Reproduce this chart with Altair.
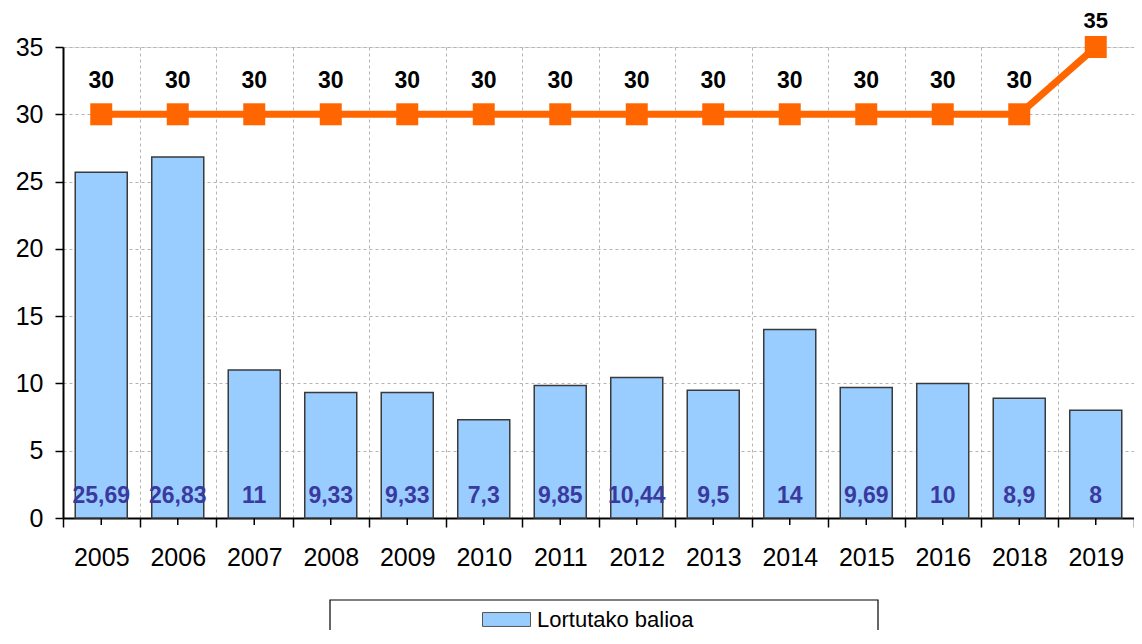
import altair as alt
import pandas as pd

years = ["2005", "2006", "2007", "2008", "2009", "2010", "2011",
         "2012", "2013", "2014", "2015", "2016", "2018", "2019"]
values = [25.69, 26.83, 11, 9.33, 9.33, 7.3, 9.85, 10.44, 9.5, 14, 9.69, 10, 8.9, 8]
value_labels = ["25,69", "26,83", "11", "9,33", "9,33", "7,3", "9,85",
                "10,44", "9,5", "14", "9,69", "10", "8,9", "8"]
targets = [30, 30, 30, 30, 30, 30, 30, 30, 30, 30, 30, 30, 30, 35]
target_labels = ["30", "30", "30", "30", "30", "30", "30",
                 "30", "30", "30", "30", "30", "30", "35"]
series_name = "Lortutako balioa"

df = pd.DataFrame({
    "year": years,
    "value": values,
    "vlabel": value_labels,
    "target": targets,
    "tlabel": target_labels,
    "series": [series_name] * len(years),
    "zero": [0] * len(years),
})

FONT = "Liberation Sans"
W, H = 1071, 471

xscale = alt.Scale(paddingInner=0, paddingOuter=0)
xenc = alt.X("year:N", scale=xscale, sort=years,
             axis=alt.Axis(title=None, tickBand="extent", grid=True,
                           gridDash=[3, 3], gridColor="#b4b4b4", gridWidth=1,
                           labelAngle=0, labelFontSize=25, labelFont=FONT,
                           labelColor="black", labelPadding=18, tickSize=9,
                           tickColor="black", tickWidth=1.5,
                           domainColor="black", domainWidth=2))
yscale = alt.Scale(domain=[0, 35], nice=False)
yenc = alt.Y("value:Q", scale=yscale,
             axis=alt.Axis(title=None, values=[0, 5, 10, 15, 20, 25, 30, 35],
                           grid=True, gridDash=[3, 3], gridColor="#b4b4b4",
                           gridWidth=1, labelFontSize=25, labelFont=FONT,
                           labelColor="black", labelPadding=12, tickSize=8,
                           tickColor="black", tickWidth=1.5,
                           domainColor="black", domainWidth=2))

base = alt.Chart(df)

bars = base.mark_bar(width=alt.RelativeBandSize(0.68), stroke="#3a3a3a",
                     strokeWidth=1.5).encode(
    x=xenc,
    y=yenc,
    fill=alt.Fill("series:N", scale=alt.Scale(range=["#99CCFF"]),
                  legend=alt.Legend(title=None, orient="none", legendX=419,
                                    legendY=548, padding=0,
                                    symbolType="M-1,-0.29H1V0.29H-1Z",
                                    symbolSize=2304, symbolStrokeColor="#555555",
                                    symbolStrokeWidth=1, labelFontSize=22,
                                    labelFont=FONT, labelColor="black",
                                    labelOffset=6)),
)

center_ticks = base.mark_rule(color="black", strokeWidth=1.5).encode(
    x=alt.X("year:N", sort=years),
    y=alt.value(H),
    y2=alt.value(H + 7),
)

bar_text = base.mark_text(dy=-22, fontSize=23, fontWeight="bold",
                          color="#3a3a9e", font=FONT).encode(
    x=alt.X("year:N", sort=years),
    y=alt.Y("zero:Q"),
    text="vlabel:N",
)

line = base.mark_line(color="#FF6600", strokeWidth=7).encode(
    x=alt.X("year:N", sort=years),
    y=alt.Y("target:Q"),
)
pts = base.mark_point(shape="square", filled=True, size=484, opacity=1,
                      color="#FF6600").encode(
    x=alt.X("year:N", sort=years),
    y=alt.Y("target:Q"),
)
line_text_low = base.transform_filter("datum.target < 35").mark_text(
    dy=-33, fontSize=23, fontWeight="bold", color="black", font=FONT).encode(
    x=alt.X("year:N", sort=years),
    y=alt.Y("target:Q"),
    text="tlabel:N",
)
line_text_top = base.transform_filter("datum.target >= 35").mark_text(
    dy=-26, fontSize=22, fontWeight="bold", color="black", font=FONT).encode(
    x=alt.X("year:N", sort=years),
    y=alt.Y("target:Q"),
    text="tlabel:N",
)

box = alt.Chart(pd.DataFrame({"k": [1]})).mark_rect(
    fill="white", stroke="black", strokeWidth=1.2).encode(
    x=alt.value(267), x2=alt.value(815), y=alt.value(553), y2=alt.value(640))

chart = alt.layer(bars, center_ticks, bar_text, line, pts, line_text_low,
                  line_text_top, box).properties(
    width=W, height=H,
    autosize=alt.AutoSizeParams(type="none"),
    padding={"left": 55, "top": 39, "right": 0, "bottom": 112},
).configure_view(stroke="#8c8c8c", strokeWidth=2).configure(background="white")

chart.save("out.html", embed_options={"renderer": "svg", "actions": False})
